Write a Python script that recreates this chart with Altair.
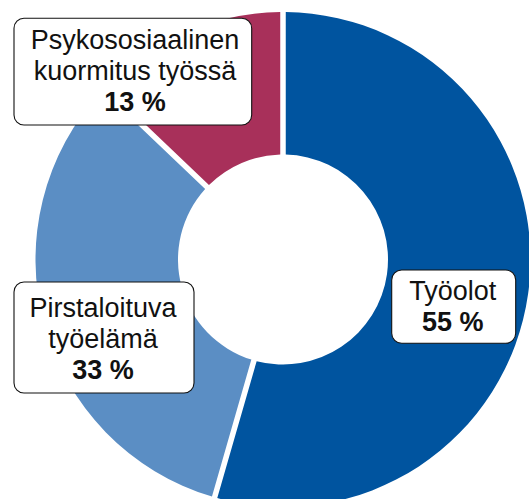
import altair as alt
import pandas as pd

# ---- data ----
categories = ["Työolot", "Pirstaloituva työelämä", "Psykososiaalinen kuormitus työssä"]
values = [55, 33, 13]
label_names = ["Työolot", "Pirstaloituva\ntyöelämä", "Psykososiaalinen\nkuormitus työssä"]

# ---- style ----
colors = ["#00549F", "#5B8EC4", "#A8305A"]
FONT = "Liberation Sans"
FS = 27
LH = 31

# ---- layout (donut geometry and label boxes, offsets from donut centre in px) ----
W, H = 529, 499
CX, CY = 283, 259.5
R_OUT, R_IN = 247.5, 105
box_left = [108.7, -269, -269]
box_right = [232.7, -89, -31.3]
box_top = [10.5, 22.5, -241.2]
box_bottom = [83.8, 133.5, -134.5]
text_x = [169.8, -180, -148]
text_first_baseline = [40, 57.5, -210.2]

df = pd.DataFrame({
    "cat": categories,
    "value": values,
    "idx": list(range(len(categories))),
    "name": label_names,
    "pct": [f"{v} %" for v in values],
    "bl": box_left, "br": box_right, "bt": box_top, "bb": box_bottom,
    "tx": text_x, "ty": text_first_baseline,
})
df["nlines"] = df["name"].str.count("\n") + 1
df["py"] = df["ty"] + df["nlines"] * LH

xs = alt.Scale(domain=[-R_OUT, R_OUT], range=[CX - R_OUT, CX + R_OUT])
ys = alt.Scale(domain=[-R_OUT, R_OUT], range=[CY - R_OUT, CY + R_OUT])

base = alt.Chart(df)

arcs = base.mark_arc(outerRadius=R_OUT, innerRadius=R_IN, padAngle=0.0205).encode(
    theta=alt.Theta("value:Q", stack=True),
    color=alt.Color("cat:N", scale=alt.Scale(domain=categories, range=colors), legend=None),
    order=alt.Order("idx:Q"),
    x=alt.value(CX),
    y=alt.value(CY),
)

boxes = base.mark_rect(cornerRadius=10, fill="white", stroke="#111111", strokeWidth=1.1).encode(
    x=alt.X("bl:Q", scale=xs, axis=None),
    x2="br:Q",
    y=alt.Y("bt:Q", scale=ys, axis=None),
    y2="bb:Q",
)

names = base.mark_text(font=FONT, fontSize=FS, lineBreak="\n", lineHeight=LH,
                       align="center", baseline="alphabetic", color="#111111").encode(
    x=alt.X("tx:Q", scale=xs, axis=None),
    y=alt.Y("ty:Q", scale=ys, axis=None),
    text="name:N",
)

pcts = base.mark_text(font=FONT, fontSize=FS, fontWeight="bold",
                      align="center", baseline="alphabetic", color="#111111").encode(
    x=alt.X("tx:Q", scale=xs, axis=None),
    y=alt.Y("py:Q", scale=ys, axis=None),
    text="pct:N",
)

chart = alt.layer(arcs, boxes, names, pcts).properties(
    width=W, height=H, padding=0, autosize=alt.AutoSizeParams(type="none")
).configure_view(stroke=None)

chart.save("out.html", embed_options={"renderer": "svg", "actions": False})
